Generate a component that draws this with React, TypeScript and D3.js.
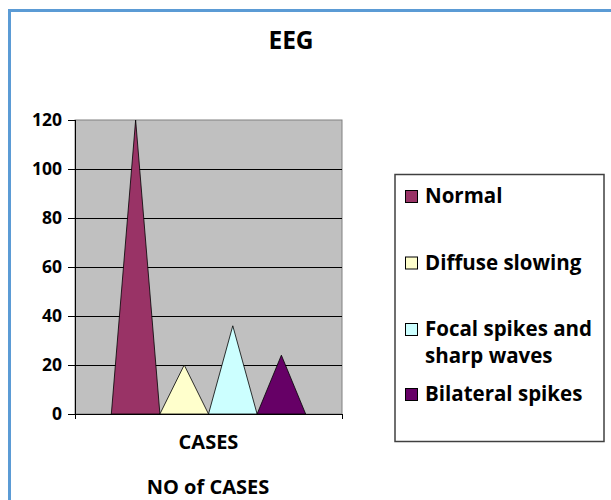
import React from "react";
import * as d3 from "d3";

const categories = ["CASES"];
const seriesNames = ["Normal", "Diffuse slowing", "Focal spikes and sharp waves", "Bilateral spikes"];
const seriesValues = [120, 20, 36, 24];
const seriesColors = ["#993366", "#FFFFCC", "#CCFFFF", "#660066"];
const yTicks = [0, 20, 40, 60, 80, 100, 120];
const chartTitle = "EEG";
const xAxisTitle = "NO of CASES";

const W = 611;
const H = 500;
const plot = { left: 75, right: 342, top: 120, bottom: 414 };
const FONT = "'Open Sans', 'DejaVu Sans', sans-serif";
const legendBox = { x: 395, y: 174.5, w: 209, h: 267 };
const legendBaselines = [203, 269.5, 336, 401];
const legendLineH = 26.5;

function wrap(label: string, maxChars: number): string[] {
  const words = label.split(" ");
  const lines: string[] = [];
  let cur = "";
  for (const w of words) {
    const t = cur ? cur + " " + w : w;
    if (t.length > maxChars && cur) {
      lines.push(cur);
      cur = w;
    } else cur = t;
  }
  if (cur) lines.push(cur);
  return lines;
}

export default function App() {
  const y = d3.scaleLinear().domain([0, 120]).range([plot.bottom, plot.top]);
  const x0 = d3
    .scaleBand<string>()
    .domain(categories)
    .range([plot.left, plot.right])
    .paddingInner(0)
    .paddingOuter(0.187);
  const x1 = d3
    .scaleBand<string>()
    .domain(seriesNames)
    .range([0, x0.bandwidth()])
    .padding(0);

  const tri = (cat: string, name: string, v: number) => {
    const bx = (x0(cat) ?? 0) + (x1(name) ?? 0);
    const bw = x1.bandwidth();
    const p = d3.path();
    p.moveTo(bx, y(0));
    p.lineTo(bx + bw / 2, y(v));
    p.lineTo(bx + bw, y(0));
    p.closePath();
    return p.toString();
  };

  return (
    <svg
      width={W}
      height={H}
      style={{ position: "absolute", left: 0, top: 0, background: "#fff" }}
      fontFamily={FONT}
    >
      {/* outer frame */}
      <rect x={9.5} y={10.5} width={W + 20} height={H + 20} fill="#fff" stroke="#5B9BD5" strokeWidth={3} />

      {/* title */}
      <text x={291} y={49} textAnchor="middle" fontSize={24.5} fontWeight={700} fill="#000">
        {chartTitle}
      </text>

      {/* plot area */}
      <rect
        x={plot.left}
        y={plot.top}
        width={plot.right - plot.left}
        height={plot.bottom - plot.top}
        fill="#C0C0C0"
        stroke="#808080"
        strokeWidth={1}
      />
      {yTicks
        .filter((t) => t > 0 && t < 120)
        .map((t) => (
          <line
            key={"g" + t}
            x1={plot.left}
            x2={plot.right}
            y1={Math.round(y(t)) + 0.5}
            y2={Math.round(y(t)) + 0.5}
            stroke="#000"
            strokeWidth={1}
          />
        ))}

      {/* triangles */}
      {categories.map((cat) =>
        seriesNames.map((name, i) => (
          <path
            key={cat + name}
            d={tri(cat, name, seriesValues[i])}
            fill={seriesColors[i]}
            stroke="#000"
            strokeWidth={0.8}
            strokeLinejoin="miter"
          />
        ))
      )}

      {/* y axis */}
      <line x1={plot.left + 0.5} x2={plot.left + 0.5} y1={plot.top} y2={plot.bottom + 0.5} stroke="#000" strokeWidth={1} />
      {yTicks.map((t) => (
        <g key={"t" + t}>
          <line
            x1={plot.left - 7}
            x2={plot.left}
            y1={Math.round(y(t)) + 0.5}
            y2={Math.round(y(t)) + 0.5}
            stroke="#000"
          />
          <text x={62} y={y(t) + 6} textAnchor="end" fontSize={17.5} fontWeight={700} fill="#000">
            {t}
          </text>
        </g>
      ))}

      {/* x axis */}
      <line x1={plot.left} x2={plot.right} y1={plot.bottom + 0.5} y2={plot.bottom + 0.5} stroke="#000" strokeWidth={1} />
      {[plot.left, plot.right].map((xx) => (
        <line key={"xt" + xx} x1={xx + 0.5} x2={xx + 0.5} y1={plot.bottom} y2={plot.bottom + 5} stroke="#000" />
      ))}
      {categories.map((cat) => (
        <text
          key={"c" + cat}
          x={(x0(cat) ?? 0) + x0.bandwidth() / 2}
          y={449}
          textAnchor="middle"
          fontSize={20}
          fontWeight={700}
          fill="#000"
        >
          {cat}
        </text>
      ))}
      <text x={208} y={494} textAnchor="middle" fontSize={20} fontWeight={700} fill="#000">
        {xAxisTitle}
      </text>

      {/* legend */}
      <rect
        x={legendBox.x}
        y={legendBox.y}
        width={legendBox.w}
        height={legendBox.h}
        fill="#fff"
        stroke="#404040"
        strokeWidth={1.5}
      />
      {seriesNames.map((name, i) => {
        const lines = wrap(name, 16);
        const by = legendBaselines[i];
        return (
          <g key={"l" + name}>
            <rect x={405.5} y={by - 12.5} width={12} height={12} fill={seriesColors[i]} stroke="#000" strokeWidth={1} />
            <text x={425} y={by} fontSize={20.5} fontWeight={700} fill="#000">
              {lines.map((ln, j) => (
                <tspan key={j} x={425} y={by + j * legendLineH}>
                  {ln}
                </tspan>
              ))}
            </text>
          </g>
        );
      })}
    </svg>
  );
}
